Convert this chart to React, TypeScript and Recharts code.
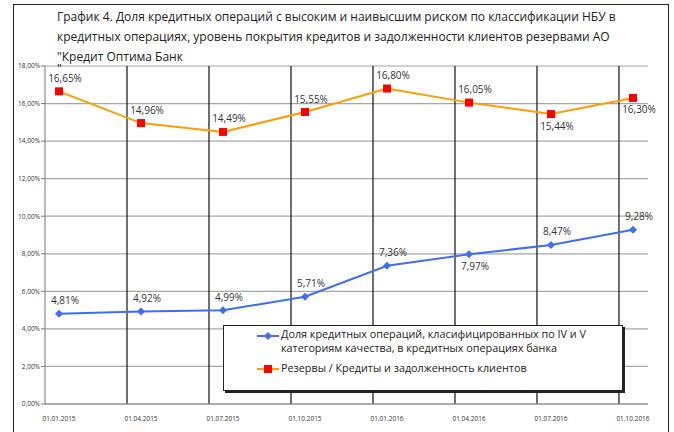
import { LineChart, Line, XAxis, YAxis, CartesianGrid, ReferenceLine, LabelList } from 'recharts';

const dates = ['01.01.2015', '01.04.2015', '01.07.2015', '01.10.2015', '01.01.2016', '01.04.2016', '01.07.2016', '01.10.2016'];
const riskShare = [4.81, 4.92, 4.99, 5.71, 7.36, 7.97, 8.47, 9.28];
const reserveRatio = [16.65, 14.96, 14.49, 15.55, 16.8, 16.05, 15.44, 16.3];
const yTicks = [0, 2, 4, 6, 8, 10, 12, 14, 16, 18];
const titleLines = [
  'График 4. Доля кредитных операций с высоким и наивысшим риском по классификации НБУ в',
  'кредитных операциях, уровень покрытия кредитов и задолженности клиентов резервами АО',
  '"Кредит Оптима Банк',
];
const titleTail = '"';
const riskName = 'Доля кредитных операций, класифицированных по  IV и V категориям качества, в кредитных операциях банка';
const reserveName = 'Резервы / Кредиты и задолженность клиентов';

// which labels sit under their point
const riskBelow = [5];
const reserveBelow = [6, 7];

const BLUE = '#3d6ef4';
const ORANGE = '#ff9c00';
const RED = '#ff0000';
const FONT = '"Open Sans", sans-serif';
const GRID_SHIFT = 0.171;

const data = dates.map((d, i) => ({ x: i, date: d, risk: riskShare[i], reserve: reserveRatio[i] }));

const fmt = (v: number) => v.toFixed(2).replace('.', ',') + '%';

const Diamond = (props: any) => {
  const { cx, cy } = props;
  if (cx == null || cy == null) return null;
  return <polygon points={`${cx},${cy - 4} ${cx + 4},${cy} ${cx},${cy + 4} ${cx - 4},${cy}`} fill={BLUE} />;
};

const Square = (props: any) => {
  const { cx, cy } = props;
  if (cx == null || cy == null) return null;
  return <rect x={cx - 4} y={cy - 4} width={8} height={8} fill={RED} />;
};

const makeLabel = (below: number[]) => (props: any) => {
  const { x, y, value, index } = props;
  const under = below.includes(index);
  return (
    <text x={x + 6} y={under ? y + 15.5 : y - 9.5} textAnchor="middle" fontSize={10} fill="#333" fontFamily={FONT}>
      {fmt(Number(value))}
    </text>
  );
};

const LegendBox = () => (
  <div
    style={{
      position: 'absolute',
      left: 223,
      top: 325,
      width: 398,
      height: 64,
      background: '#fff',
      border: '1px solid #222',
      boxShadow: '2px 2px 0 #222',
      fontFamily: FONT,
      fontSize: 10.8,
      color: '#222',
    }}
  >
    <svg width={24} height={10} style={{ position: 'absolute', left: 32, top: 5 }}>
      <line x1={1} y1={5} x2={23} y2={5} stroke={BLUE} strokeWidth={2} />
      <polygon points="12,1 16,5 12,9 8,5" fill={BLUE} />
    </svg>
    <div style={{ position: 'absolute', left: 57, top: 1, width: 340, lineHeight: '14px' }}>{riskName}</div>
    <svg width={24} height={10} style={{ position: 'absolute', left: 32, top: 38 }}>
      <line x1={1} y1={5} x2={23} y2={5} stroke={ORANGE} strokeWidth={2} />
      <rect x={8} y={1} width={8} height={8} fill={RED} />
    </svg>
    <div style={{ position: 'absolute', left: 57, top: 35, lineHeight: '14px' }}>{reserveName}</div>
  </div>
);

export default function App() {
  return (
    <div style={{ position: 'absolute', left: 0, top: 0, width: 674, height: 432, background: '#fff', overflow: 'hidden' }}>
      <div
        style={{
          position: 'absolute',
          left: 13,
          top: 4,
          width: 654,
          height: 460,
          border: '1.5px solid #222',
          borderBottom: 'none',
        }}
      />
      {titleLines.map((t, i) => (
        <div
          key={i}
          style={{
            position: 'absolute',
            left: 57,
            top: 11 + i * 20,
            fontFamily: FONT,
            fontSize: 12,
            color: '#222',
            lineHeight: '12px',
            whiteSpace: 'nowrap',
          }}
        >
          {t}
        </div>
      ))}
      <div style={{ position: 'absolute', left: 0, top: 0 }}>
        <LineChart width={674} height={432} data={data} margin={{ top: 66, right: 26, bottom: 0, left: 0 }}>
          <CartesianGrid vertical={false} stroke="#a6a6a6" strokeWidth={1.2} />
          <XAxis
            dataKey="x"
            type="number"
            domain={[-GRID_SHIFT, 7.183]}
            ticks={data.map((d) => d.x)}
            tickFormatter={(i: number) => dates[i]}
            interval={0}
            allowDataOverflow
            height={28}
            tickLine={false}
            axisLine={{ stroke: '#888' }}
            tick={{ fontSize: 6.5, fill: '#333', fontFamily: FONT }}
            tickMargin={6}
          />
          <YAxis
            width={45}
            domain={[0, 18]}
            ticks={yTicks}
            tickFormatter={(v: number) => fmt(v)}
            axisLine={{ stroke: '#777' }}
            tickLine={{ stroke: '#777' }}
            tickSize={4}
            tickMargin={1}
            tick={{ fontSize: 6.5, fill: '#333', fontFamily: FONT }}
          />
          {data.slice(1).map((d) => (
            <ReferenceLine key={d.x} x={d.x - GRID_SHIFT} stroke="#111" strokeWidth={1.2} />
          ))}
          <Line
            dataKey="reserve"
            stroke={ORANGE}
            strokeWidth={2}
            dot={<Square />}
            activeDot={false}
            isAnimationActive={false}
          >
            <LabelList dataKey="reserve" content={makeLabel(reserveBelow)} />
          </Line>
          <Line
            dataKey="risk"
            stroke={BLUE}
            strokeWidth={2}
            dot={<Diamond />}
            activeDot={false}
            isAnimationActive={false}
          >
            <LabelList dataKey="risk" content={makeLabel(riskBelow)} />
          </Line>
        </LineChart>
      </div>
      <div
        style={{
          position: 'absolute',
          left: 57,
          top: 63,
          fontFamily: FONT,
          fontSize: 12,
          color: '#222',
          lineHeight: '12px',
          zIndex: 2,
        }}
      >
        {titleTail}
      </div>
      <LegendBox />
    </div>
  );
}
